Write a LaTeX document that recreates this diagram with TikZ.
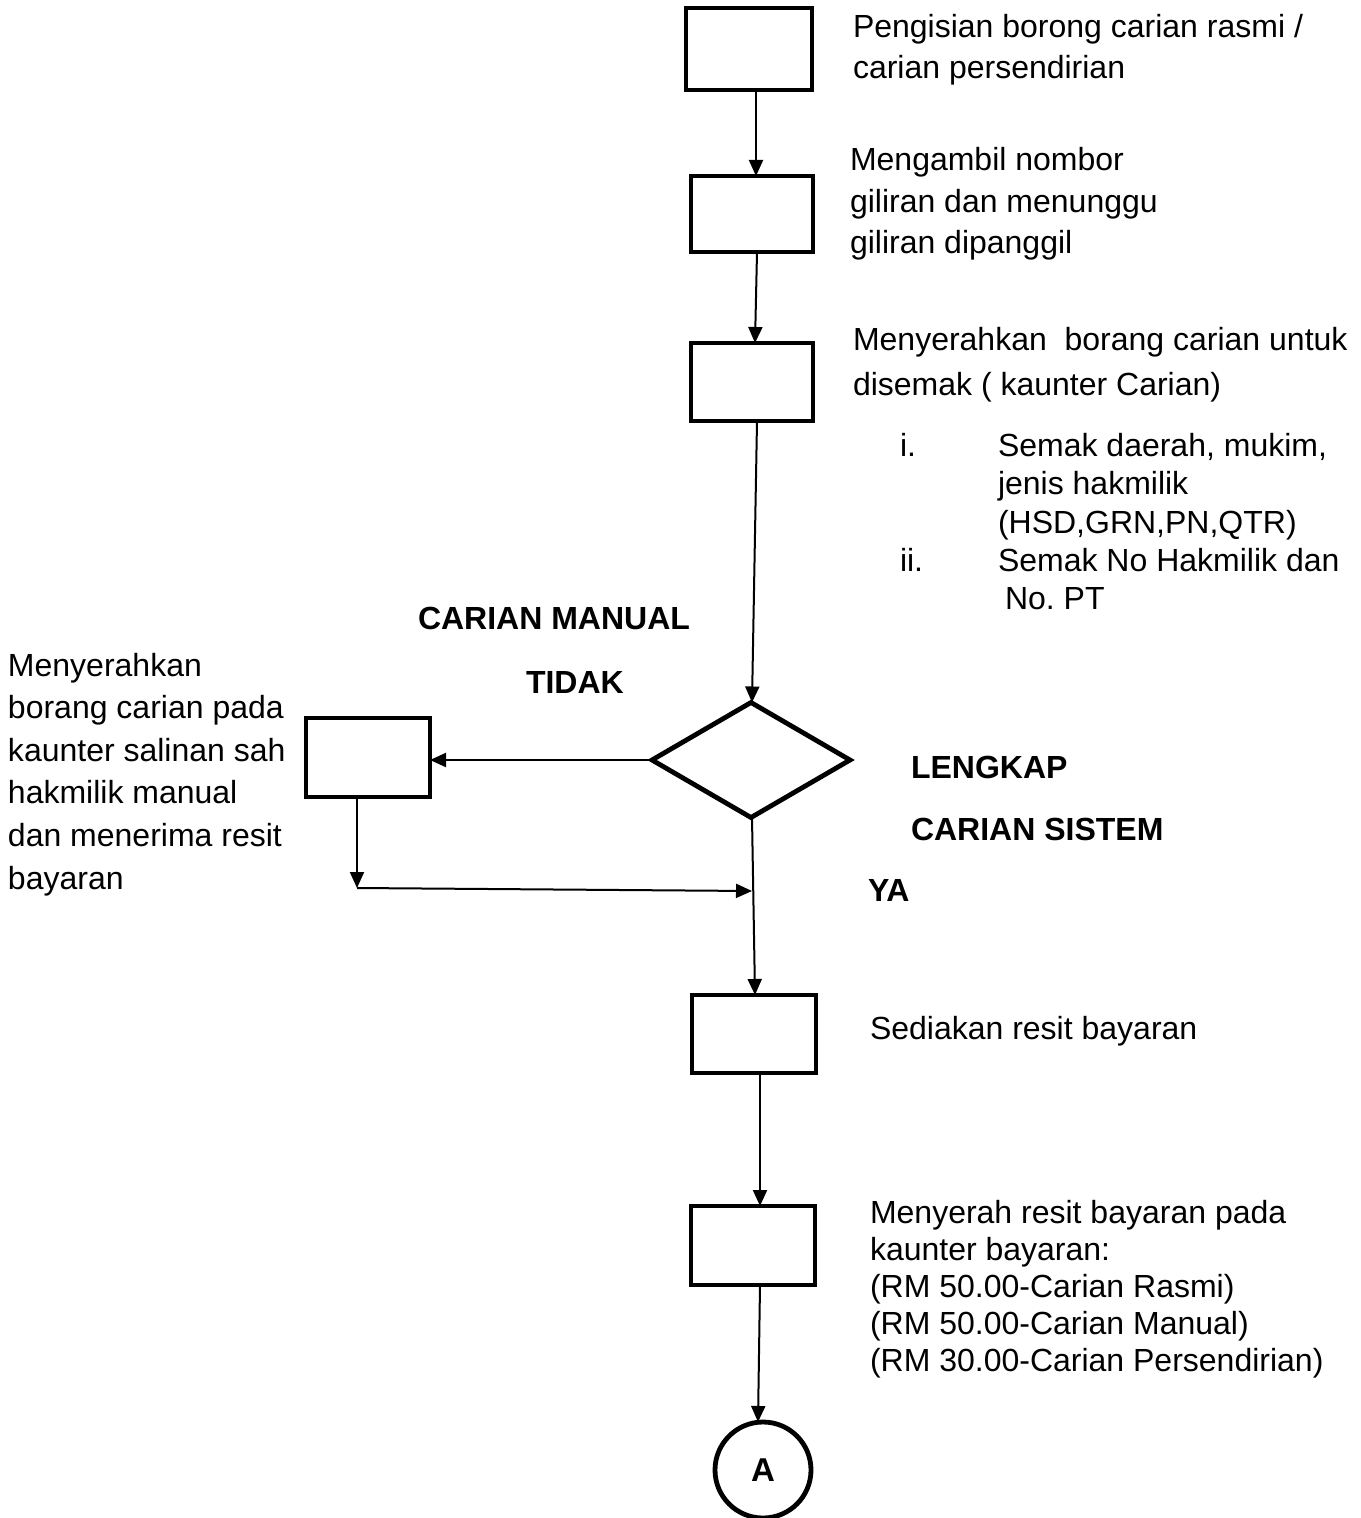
\documentclass[tikz,border=0pt]{standalone}
\usepackage{fontspec}
\setmainfont{Liberation Sans}
\usetikzlibrary{arrows.meta,shapes.geometric}
\frenchspacing
\begin{document}
\begin{tikzpicture}[x=0.5pt,y=-0.5pt,
  stepbox/.style={draw, rectangle, line width=2.4pt, inner sep=0pt, outer sep=0pt},
  conn/.style={line width=1pt, -{Triangle[length=8pt,width=7pt]}},
  lbl/.style={anchor=base west, inner sep=0pt, outer sep=0pt, font=\fontsize{16}{19}\selectfont},
  blbl/.style={lbl, font=\fontsize{16}{19}\selectfont\bfseries}]
\useasboundingbox (0,0) rectangle (1360,1518);
% boxes
\node[stepbox, minimum width=63pt, minimum height=41pt] (b1) at (749,49) {};
\node[stepbox, minimum width=61pt, minimum height=38pt] (b2) at (752,214) {};
\node[stepbox, minimum width=61pt, minimum height=39pt] (b3) at (752,382) {};
\node[draw, diamond, line width=2.4pt, minimum width=99pt, minimum height=57.5pt, inner sep=0pt, outer sep=0pt] (d) at (751,760) {};
\node[stepbox, minimum width=62pt, minimum height=39.5pt] (bl) at (368,757.5) {};
\node[stepbox, minimum width=62pt, minimum height=39pt] (b4) at (754,1034) {};
\node[stepbox, minimum width=62pt, minimum height=39.5pt] (b5) at (753,1245.5) {};
\node[draw, circle, line width=2.4pt, minimum size=48pt, inner sep=0pt, outer sep=0pt, font=\fontsize{16.5}{19}\selectfont\bfseries] (ca) at (763,1470) {A};
% connectors
\draw[conn] ([xshift=3.5pt]b1.south) -- ([xshift=2pt]b2.north);
\draw[conn] ([xshift=2.5pt]b2.south) -- ([xshift=1.5pt]b3.north);
\draw[conn] ([xshift=2.5pt]b3.south) -- ([xshift=0.5pt]d.north);
\draw[conn] (d.west) -- (d.west -| bl.east);
\coordinate (j1) at (357,888);
\coordinate (j2) at (752,891);
\draw[conn] (bl.south -| j1) -- (j1);
\draw[conn] (j1) -- (j2);
\draw[conn] ([xshift=0.5pt]d.south) -- ([xshift=0.5pt]b4.north);
\draw[conn] ([xshift=3pt]b4.south) -- ([xshift=3.5pt]b5.north);
\draw[conn] ([xshift=3.5pt]b5.south) -- ([xshift=-2.5pt]ca.north);
% texts
\node[lbl] (t1a) at (853,38) {Pengisian borong carian rasmi /};
\node[lbl] (t1b) at (853,79) {carian persendirian};
\node[lbl] (t2a) at (850,171) {Mengambil nombor};
\node[lbl] (t2b) at (850,213) {giliran dan menunggu};
\node[lbl] (t2c) at (850,254) {giliran dipanggil};
\node[lbl] (t3a) at (853,351) {Menyerahkan\ \ borang carian untuk};
\node[lbl] (t3b) at (853,396) {disemak ( kaunter Carian)};
\node[lbl] (l1n) at (900,456) {i.};
\node[lbl] (l1a) at (998,456) {Semak daerah, mukim,};
\node[lbl] (l1b) at (998,494) {jenis hakmilik};
\node[lbl] (l1c) at (998,533) {(HSD,GRN,PN,QTR)};
\node[lbl] (l2n) at (900,571) {ii.};
\node[lbl] (l2a) at (998,571) {Semak No Hakmilik dan};
\node[lbl] (l2b) at (1005,609) {No. PT};
\node[blbl] (cm) at (418,629) {CARIAN MANUAL};
\node[blbl] (td) at (526,693) {TIDAK};
\node[lbl] (m1) at (8,676) {Menyerahkan};
\node[lbl] (m2) at (8,718) {borang carian pada};
\node[lbl] (m3) at (8,761) {kaunter salinan sah};
\node[lbl] (m4) at (8,803) {hakmilik manual};
\node[lbl] (m5) at (8,846) {dan menerima resit};
\node[lbl] (m6) at (8,889) {bayaran};
\node[blbl] (lk) at (911,778) {LENGKAP};
\node[blbl] (cs) at (911,840) {CARIAN SISTEM};
\node[blbl] (ya) at (868,901) {YA};
\node[lbl] (t4) at (870,1039) {Sediakan resit bayaran};
\node[lbl] (t5a) at (870,1223) {Menyerah resit bayaran pada};
\node[lbl] (t5b) at (870,1260) {kaunter bayaran:};
\node[lbl] (t5c) at (870,1297) {(RM 50.00-Carian Rasmi)};
\node[lbl] (t5d) at (870,1334) {(RM 50.00-Carian Manual)};
\node[lbl] (t5e) at (870,1371) {(RM 30.00-Carian Persendirian)};
\end{tikzpicture}
\end{document}
